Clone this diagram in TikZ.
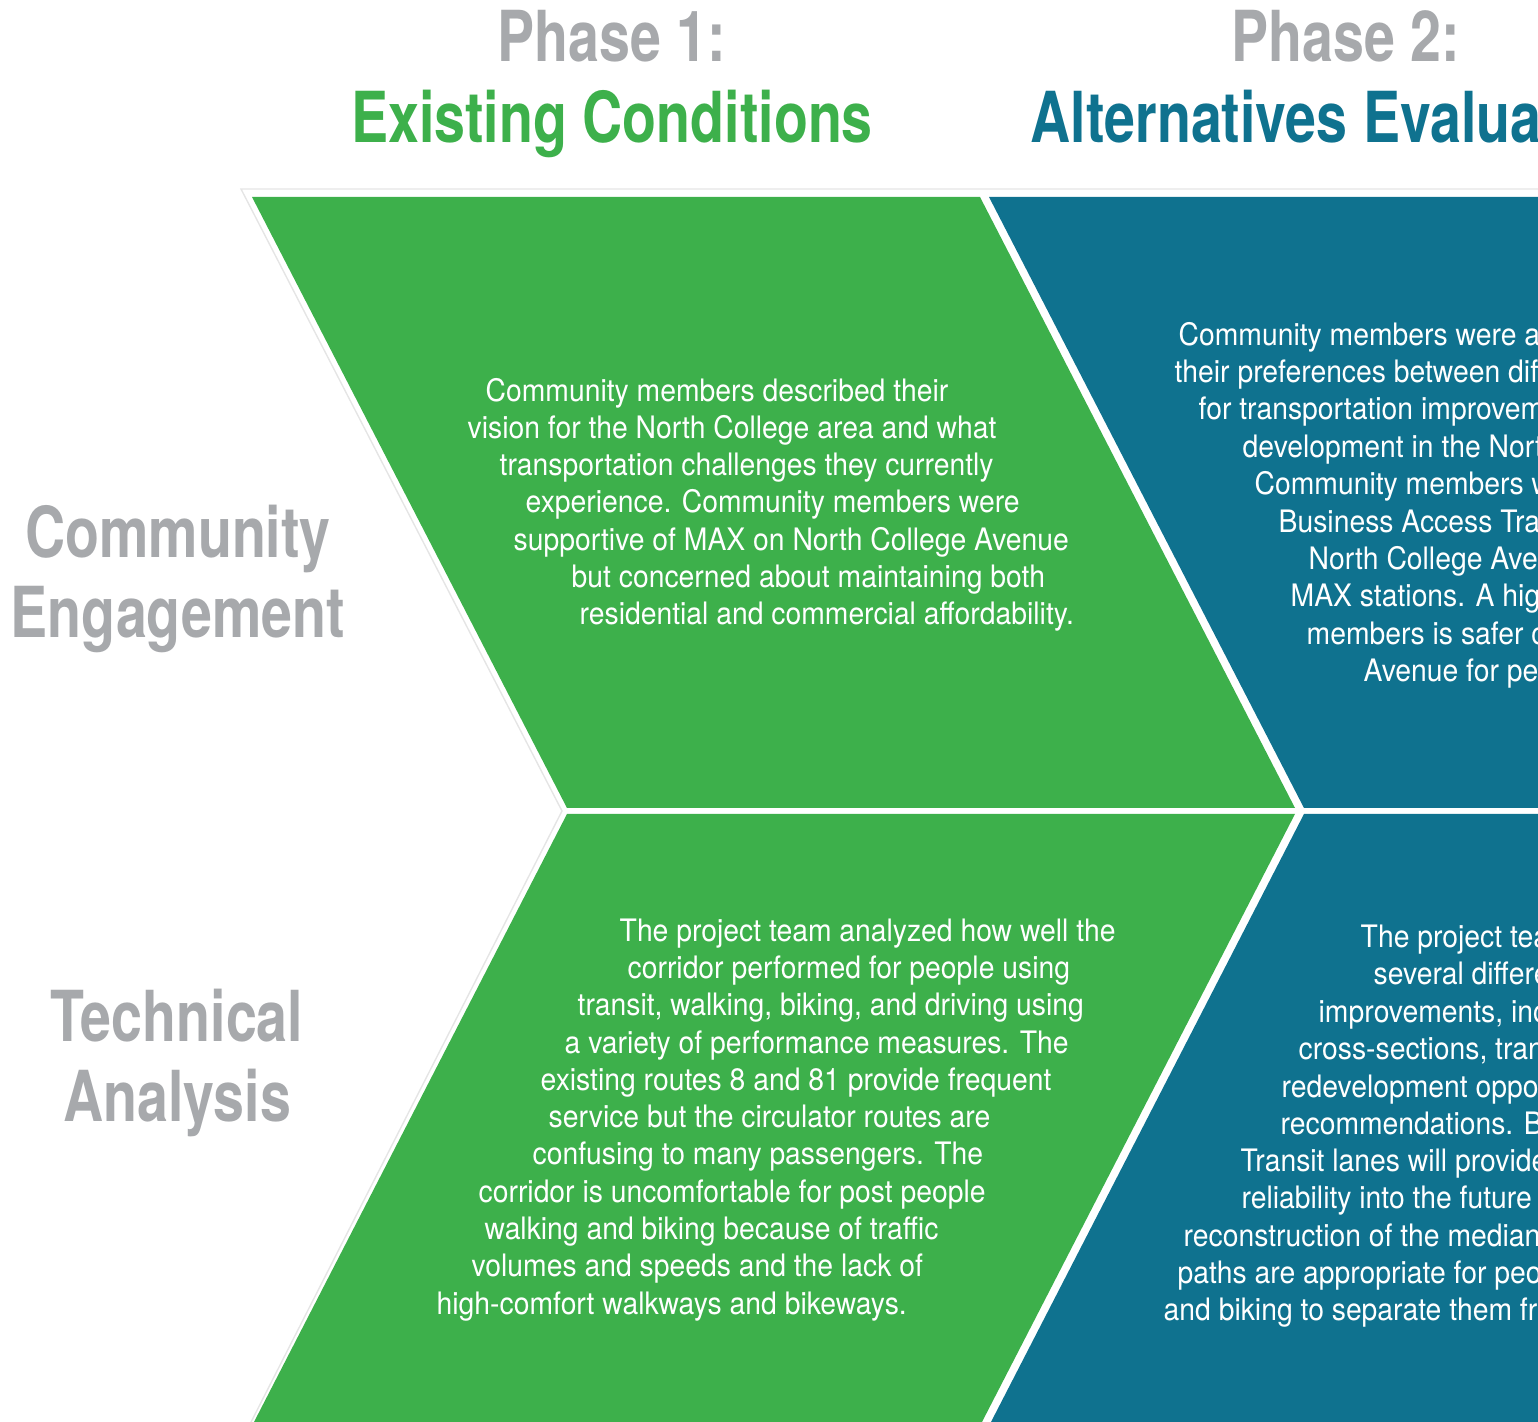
\documentclass[tikz,border=0pt]{standalone}
\usepackage{fontspec}
\setmainfont{TeX Gyre Heros}
\newfontfamily\headfont[FakeStretch=0.79]{TeX Gyre Heros}
\newfontfamily\bodyfont[FakeStretch=0.915]{TeX Gyre Heros}
\usepackage{tikz}
\definecolor{ecgreen}{RGB}{61,176,75}
\definecolor{aeblue}{RGB}{15,114,143}
\definecolor{labelgray}{RGB}{167,169,172}
\def\greenchevron{\fill[ecgreen]}
\def\bluechevron{\fill[aeblue]}
\tikzset{
  heading/.style={font=\headfont\bfseries\fontsize{20}{24}\selectfont, inner sep=0pt, anchor=base},
  sidelabel/.style={heading, text=labelgray},
  bodyline/.style={font=\bodyfont\fontsize{8.8}{10.6}\selectfont, text=white, inner sep=0pt, anchor=base west, yshift=-0.03cm}
}

\begin{document}
\begin{tikzpicture}[x=0.01cm,y=-0.01cm]
\useasboundingbox (0,0) rectangle (1538,1422);
\clip (0,0) rectangle (1538,1422);
\draw[black!10, line width=0.4pt] (1545,189) -- (241,189) -- (562,811) -- (247,1430);
\greenchevron (252,197) -- (980,197) -- (1295,808) -- (567,808) -- cycle;
\greenchevron (567,814) -- (1295,814) -- (982,1422) -- (254,1422) -- cycle;
\bluechevron (989,197) -- (1545,197) -- (1545,808) -- (1304,808) -- cycle;
\bluechevron (1304,814) -- (1545,814) -- (1545,1422) -- (991,1422) -- cycle;

\node[heading, text=labelgray] (phaseone) at (612,62) {Phase 1:};
\node[heading, text=ecgreen] (ectitle) at (612,143) {Existing Conditions};
\node[heading, text=labelgray] (phasetwo) at (1346,62) {Phase 2:};
\node[heading, text=aeblue, anchor=base west] (aetitle) at (1030,143) {Alternatives Evaluation};

\node[sidelabel] (comm) at (178,558) {Community};
\node[sidelabel] (engage) at (178,638) {Engagement};
\node[sidelabel] (techn) at (177,1042) {Technical};
\node[sidelabel] (analys) at (177,1122) {Analysis};

\foreach \px/\py/\txt [count=\i] in {
  485/399/{Community members described their},
  467/436/{vision for the North College area and what},
  499/473/{transportation challenges they currently},
  525/510/{experience. Community members were},
  513/548/{supportive of MAX on North College Avenue},
  571/585/{but concerned about maintaining both},
  579/622/{residential and commercial affordability.}}
  \node[bodyline] (eceng\i) at (\px,\py) {\txt};

\foreach \px/\py/\txt [count=\i] in {
  619/939/{The project team analyzed how well the},
  627/976/{corridor performed for people using},
  577/1013/{transit, walking, biking, and driving using},
  564/1051/{a variety of performance measures. The},
  540/1088/{existing routes 8 and 81 provide frequent},
  548/1125/{service but the circulator routes are},
  532/1162/{confusing to many passengers. The},
  478/1200/{corridor is uncomfortable for post people},
  484/1237/{walking and biking because of traffic},
  471/1274/{volumes and speeds and the lack of},
  436/1312/{high-comfort walkways and bikeways.}}
  \node[bodyline] (ectech\i) at (\px,\py) {\txt};

\foreach \px/\py/\txt [count=\i] in {
  1178/343/{Community members were asked},
  1174/380/{their preferences between different},
  1198/417/{for transportation improvements},
  1242/455/{development in the North},
  1254/492/{Community members were},
  1278/530/{Business Access Transit},
  1308/567/{North College Avenue},
  1290/604/{MAX stations. A high},
  1306/642/{members is safer crossings},
  1363/679/{Avenue for people}}
  \node[bodyline] (aeeng\i) at (\px,\py) {\txt};

\foreach \px/\py/\txt [count=\i] in {
  1360/945/{The project team},
  1373/982/{several different},
  1318/1020/{improvements, including},
  1298/1057/{cross-sections, transit},
  1281/1095/{redevelopment opportunities},
  1280/1132/{recommendations. Business},
  1240/1169/{Transit lanes will provide},
  1241/1206/{reliability into the future},
  1183/1244/{reconstruction of the median},
  1177/1281/{paths are appropriate for people},
  1163/1318/{and biking to separate them from}}
  \node[bodyline] (aetech\i) at (\px,\py) {\txt};
\end{tikzpicture}
\end{document}
